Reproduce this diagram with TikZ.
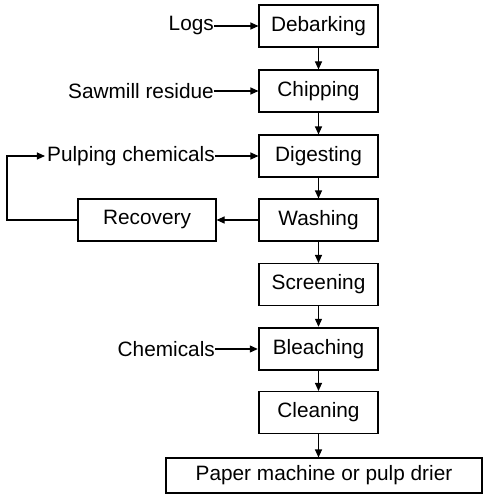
\documentclass[tikz,border=0pt]{standalone}
\usepackage{fontspec}
\setmainfont{Liberation Sans}
\usetikzlibrary{arrows.meta}
\begin{document}
\begin{tikzpicture}[x=1pt,y=-1pt,
  every node/.style={font=\fontsize{20.8}{25}\selectfont},
  stage/.style={draw, line width=1.1pt, minimum width=119pt, minimum height=42pt, inner sep=0pt},
  feed/.style={anchor=east, inner sep=0pt},
  flow/.style={line width=1.1pt, -{Triangle[length=8pt,width=7pt]}}]
\useasboundingbox (0,0) rectangle (484,495);
% main process column
\node[stage] (deb) at (318.5,26) {Debarking};
\node[stage] (chip) at (318.5,91) {Chipping};
\node[stage] (dig) at (318.5,156) {Digesting};
\node[stage] (wash) at (318.5,220) {Washing};
\node[stage] (scr) at (318.5,284.5) {Screening};
\node[stage, line width=2.4pt] (blea) at (318.5,349) {Bleaching};
\node[stage] (clean) at (318.5,412.5) {Cleaning};
\node[stage, minimum width=316pt, minimum height=35pt] (paper) at (324,475.5) {Paper machine or pulp drier};
% chemical recovery
\node[stage, minimum width=138pt] (rec) at (147,220) {Recovery};
% inputs
\node[feed] (logs) at (214,26) {Logs};
\node[feed] (saw) at (214,91) {Sawmill residue};
\node[feed] (pulp) at (215,156) {Pulping chemicals};
\node[feed] (chem) at (215,349) {Chemicals};
\coordinate (loopA) at (7,220);
\coordinate (loopB) at (7,156);
% connectors
\draw[flow] (logs.east) -- (deb.west);
\draw[flow] (saw.east) -- (chip.west);
\draw[flow] (pulp.east) -- (dig.west);
\draw[flow] (chem.east) -- (blea.west);
\draw[flow] (deb) -- (chip);
\draw[flow] (chip) -- (dig);
\draw[flow] (dig) -- (wash);
\draw[flow] (wash) -- (scr);
\draw[flow] (scr) -- (blea);
\draw[flow] (blea) -- (clean);
\draw[flow] (clean.south) -- (clean.south |- paper.north);
\draw[flow] (wash) -- (rec);
\draw[flow] (rec.west) -- (loopA) -- (loopB) -- ([xshift=-2pt]pulp.west);
\end{tikzpicture}
\end{document}
